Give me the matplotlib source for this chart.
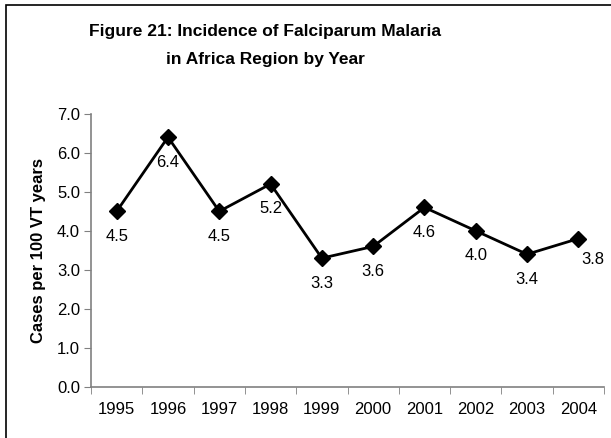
import matplotlib
matplotlib.use("Agg")
import matplotlib.pyplot as plt
import numpy as np
from matplotlib.patches import Rectangle

years = ["1995", "1996", "1997", "1998", "1999", "2000", "2001", "2002", "2003", "2004"]
incidence = [4.5, 6.4, 4.5, 5.2, 3.3, 3.6, 4.6, 4.0, 3.4, 3.8]
y_ticks = [0.0, 1.0, 2.0, 3.0, 4.0, 5.0, 6.0, 7.0]

plt.rcParams['font.family'] = ['Liberation Sans', 'DejaVu Sans']

fig = plt.figure(figsize=(6.11, 4.38), dpi=100)
ax = fig.add_axes([0.149, 0.1164, 0.8395, 0.624])

x = np.arange(len(years))
ax.plot(x, incidence, color='black', lw=2, marker='D', ms=8, mec='black', mfc='black', clip_on=False, zorder=3)

# value labels sit under each point; the last one is nudged right as in the original
for i, v in enumerate(incidence):
    if i == len(years) - 1:
        off = (14, -21)
    else:
        off = (0, -25)
    ax.annotate(f"{v:.1f}", (x[i], v), xytext=off, textcoords='offset pixels',
                ha='center', va='center', fontsize=12)

ax.set_xlim(-0.5, len(years) - 0.5)
ax.set_ylim(0, 7)
ax.set_yticks(y_ticks)
ax.set_yticklabels([f"{t:.1f}" for t in y_ticks], fontsize=12)
ax.set_xticks(x)
ax.set_xticklabels(years, fontsize=12)
ax.set_xticks(np.arange(-0.5, len(years), 1.0), minor=True)
ax.tick_params(axis='x', which='major', length=0, pad=11)
ax.tick_params(axis='x', which='minor', length=5, color='#808080', direction='out')
ax.tick_params(axis='y', length=5, color='#808080', direction='out', pad=3)

for s in ['top', 'right']:
    ax.spines[s].set_visible(False)
for s in ['left', 'bottom']:
    ax.spines[s].set_color('#808080')
    ax.spines[s].set_linewidth(1.2)

ax.set_ylabel("Cases per 100 VT years", fontsize=12, fontweight='bold', labelpad=8)

fig.text(0.434, 0.927, "Figure 21: Incidence of Falciparum Malaria", ha='center', va='center',
         fontsize=12.5, fontweight='bold')
fig.text(0.434, 0.865, "in Africa Region by Year", ha='center', va='center',
         fontsize=12.5, fontweight='bold')

fig.patches.append(Rectangle((6 / 611, -0.05), 1.2, 1 - 5 / 438 + 0.05, transform=fig.transFigure,
                             fill=False, edgecolor='black', lw=1.2))

fig.savefig("out.png", dpi=100)
